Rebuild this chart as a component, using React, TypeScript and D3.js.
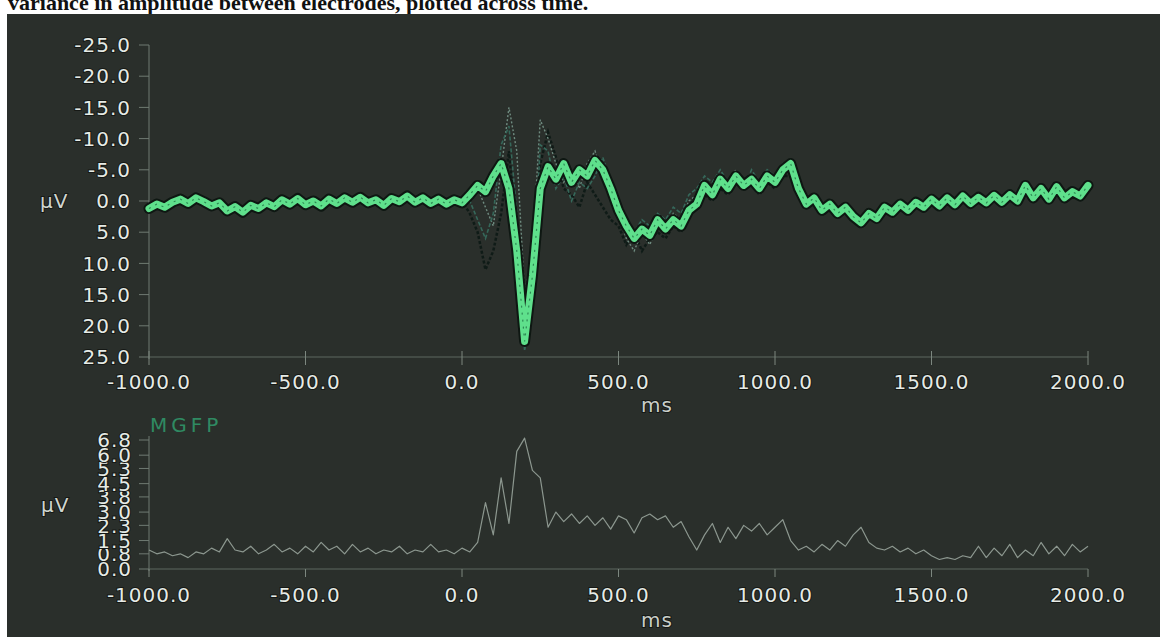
import React from "react";
import * as d3 from "d3";

// ---------- DATA ----------
const title = "variance in amplitude between electrodes, plotted across time.";

// Time axis (ms), 25 ms steps from -1000 to 2000
const timeMain: number[] = d3.range(-1000, 2001, 25);

// Dominant (bright green) electrode trace, μV (positive = plotted downward)
const mainTrace: number[] = [
  1.2, 0.5, 1.0, 0.2, -0.3, 0.4, -0.5, 0.1, 0.8, 0.3,
  1.6, 0.9, 1.8, 0.7, 1.2, 0.3, 0.9, -0.2, 0.5, -0.4,
  0.6, 0.0, 0.8, -0.3, 0.4, -0.5, 0.2, -0.6, 0.3, -0.2,
  0.7, -0.4, 0.1, -0.8, 0.2, -0.5, 0.4, -0.3, 0.5, -0.2,
  0.3, // 0 ms
  -1.0, -2.5, -1.5, -4.0, -6.0, -2.0, 8.0, 22.5, 12.0, -2.0,
  -5.5, -3.5, -6.0, -3.0, -5.0, -4.0, -6.5, -5.0, -2.0, 1.5,
  4.0, 6.0, 4.5, 5.5, 3.0, 4.5, 3.0, 4.0, 1.5, 0.5,
  -2.5, -1.0, -3.5, -2.0, -4.0, -2.5, -3.5, -2.0, -4.0, -3.0,
  -5.0, -6.0, -2.0, 0.5, -0.5, 1.5, 0.5, 2.0, 1.0, 2.5,
  3.5, 2.0, 2.8, 1.0, 1.8, 0.5, 1.5, 0.2, 1.0, -0.3,
  0.8, -0.5, 0.6, -0.8, 0.4, -0.6, 0.3, -0.9, 0.2, -1.0,
  0.0, -2.5, -0.5, -2.0, -0.3, -2.3, -0.5, -1.5, -0.8, -2.5,
];

// Secondary electrode traces around the evoked response (-100 .. 1100 ms)
const timeSecondary: number[] = d3.range(-100, 1101, 25);
const electrodeA: number[] = [
  0.5, 0, 0.8, 0, 0.5, -1, -2, 1, 4, -5,
  -15, -8, 15, 8, -13, -10, -6, -3, -5, -2,
  -6, -8, -4, 0, 2, 6, 8, 5, 7, 4,
  5, 2, 3, 0, -1, -3, -2, -4, -3, -5,
  -3, -4, -2, -4, -3, -5, -5, -2, 0.5,
];
const electrodeB: number[] = [
  0, 0.6, -0.3, 0.5, 0, 2, 5, 11, 8, 2,
  -8, 5, 20, 10, -6, -11, -7, -2, -1, 1,
  -3, -1, 1, 3, 4, 7, 5, 8, 6, 5,
  6, 4, 5, 2, 1, -1, 0, -2, -1, -3,
  -2, -3, -1, -3, -2, -4, -4, -1, 1,
];
const electrodeC: number[] = [
  0.3, -0.4, 0.2, -0.5, 0.2, 0, 3, 6, 2, -9,
  -12, 2, 24, 15, -9, -8, -2, -4, 0, -3,
  -2, -4, -7, -3, 0, 3, 5, 3, 4, 2,
  3, 1, 2, -1, -2, -4, -3, -5, -3, -4,
  -2, -5, -3, -5, -4, -6, -6, -3, 0,
];

// Mean global field power, μV
const mgfp: number[] = [
  1.0, 0.8, 0.9, 0.7, 0.8, 0.6, 0.9, 0.8, 1.1, 0.9,
  1.6, 1.0, 0.9, 1.2, 0.8, 1.0, 1.3, 0.9, 1.1, 0.8,
  1.2, 0.9, 1.4, 1.0, 1.2, 0.8, 1.3, 0.9, 1.1, 0.8,
  1.0, 0.9, 1.2, 0.8, 1.0, 0.9, 1.3, 0.9, 1.0, 0.8,
  1.1, // 0 ms
  0.9, 1.4, 3.5, 1.8, 4.8, 2.4, 6.2, 6.9, 5.2, 4.8,
  2.2, 3.0, 2.5, 2.9, 2.4, 2.8, 2.3, 2.7, 2.1, 2.8,
  2.6, 1.9, 2.7, 2.9, 2.6, 2.8, 2.2, 2.5, 1.7, 1.0,
  1.8, 2.4, 1.4, 2.2, 1.6, 2.3, 2.0, 2.4, 1.8, 2.2,
  2.6, 1.5, 1.0, 1.2, 0.9, 1.3, 1.0, 1.5, 1.2, 1.8,
  2.2, 1.4, 1.1, 1.0, 1.2, 0.9, 1.1, 0.8, 1.0, 0.7,
  0.5, 0.6, 0.5, 0.7, 0.6, 1.2, 0.6, 1.1, 0.7, 1.3,
  0.6, 1.0, 0.7, 1.4, 0.8, 1.2, 0.7, 1.3, 0.9, 1.2,
];

const xTicks: number[] = [-1000, -500, 0, 500, 1000, 1500, 2000];
const yTicksTop: number[] = [-25, -20, -15, -10, -5, 0, 5, 10, 15, 20, 25];
const yTicksBottom: number[] = [0, 0.8, 1.5, 2.3, 3.0, 3.8, 4.5, 5.3, 6.0, 6.8];

// ---------- CHART ----------
const W = 1160;
const H = 637;
const BG = "#2a2f2b";
const LABEL = "#e6ebe6";
const FONT = "'DejaVu Sans', Verdana, sans-serif";

export default function App() {
  const x = d3.scaleLinear().domain([-1000, 2000]).range([149, 1088]);
  const yTop = d3.scaleLinear().domain([-25, 25]).range([45, 357]);
  const yBot = d3.scaleLinear().domain([0, 6.8]).range([569, 440]);

  const lineTop = d3
    .line<[number, number]>()
    .x((d) => x(d[0]))
    .y((d) => yTop(d[1]));
  const lineBot = d3
    .line<[number, number]>()
    .x((d) => x(d[0]))
    .y((d) => yBot(d[1]));

  const mainPts = timeMain.map((t, i) => [t, mainTrace[i]] as [number, number]);
  const secA = timeSecondary.map((t, i) => [t, electrodeA[i]] as [number, number]);
  const secB = timeSecondary.map((t, i) => [t, electrodeB[i]] as [number, number]);
  const secC = timeSecondary.map((t, i) => [t, electrodeC[i]] as [number, number]);
  const mgfpPts = timeMain.map((t, i) => [t, mgfp[i]] as [number, number]);

  const textStyle: React.CSSProperties = {
    fontFamily: FONT,
    fontSize: 20,
    letterSpacing: 1,
    paintOrder: "stroke",
  };

  const topAxisY = 357;
  const botAxisY = 569;

  return (
    <div style={{ position: "fixed", left: 0, top: 0, width: W, height: H, background: "#fff" }}>
      <svg width={W} height={H} style={{ display: "block" }}>
        <rect x={0} y={0} width={W} height={H} fill="#ffffff" />
        <text
          x={8}
          y={10}
          style={{ fontFamily: "'Liberation Serif', 'Times New Roman', serif", fontWeight: 700, fontSize: 22 }}
          fill="#111"
        >
          {title}
        </text>
        <rect x={7} y={14} width={W - 7} height={H - 14} fill={BG} />

        {/* ---------- top butterfly plot ---------- */}
        {/* y axis */}
        <line x1={x(-1000)} x2={x(-1000)} y1={yTop(-25)} y2={topAxisY + 2} stroke="#6f7a72" strokeWidth={1} />
        {yTicksTop.map((v) => (
          <g key={"yt" + v}>
            <line x1={x(-1000) - 10} x2={x(-1000)} y1={yTop(v)} y2={yTop(v)} stroke="#6f7a72" strokeWidth={1} />
            <text
              x={131}
              y={yTop(v)}
              dy="0.36em"
              textAnchor="end"
              fill={LABEL}
              stroke="#151815"
              strokeWidth={2}
              style={textStyle}
            >
              {v.toFixed(1)}
            </text>
          </g>
        ))}
        <text x={40} y={yTop(0)} dy="0.36em" fill="#cfd5cf" stroke="#151815" strokeWidth={2} style={textStyle}>
          μV
        </text>
        {/* x axis */}
        <line x1={x(-1000)} x2={x(2000)} y1={topAxisY} y2={topAxisY} stroke="#5d6860" strokeWidth={1} />
        {xTicks.map((t) => (
          <g key={"xt" + t}>
            <line x1={x(t)} x2={x(t)} y1={topAxisY - 6} y2={topAxisY + 8} stroke="#7c877f" strokeWidth={1} />
            <text
              x={x(t)}
              y={382}
              dy="0.36em"
              textAnchor="middle"
              fill={LABEL}
              stroke="#151815"
              strokeWidth={2}
              style={textStyle}
            >
              {t.toFixed(1)}
            </text>
          </g>
        ))}
        <text x={657} y={405} dy="0.36em" textAnchor="middle" fill="#c9cfc9" stroke="#151815" strokeWidth={2} style={textStyle}>
          ms
        </text>

        {/* secondary electrodes */}
        <path d={lineTop(secB) || ""} fill="none" stroke="#0f1b17" strokeWidth={2.5} strokeDasharray="3 2" />
        <path d={lineTop(secA) || ""} fill="none" stroke="#6f8c80" strokeWidth={1.4} strokeDasharray="2 2" />
        <path d={lineTop(secC) || ""} fill="none" stroke="#35685a" strokeWidth={1.6} strokeDasharray="4 2" />
        {/* main bright trace with dark halo */}
        <path d={lineTop(mainPts) || ""} fill="none" stroke="#0e1712" strokeWidth={11} strokeLinejoin="round" strokeLinecap="round" />
        <path d={lineTop(mainPts) || ""} fill="none" stroke="#5fe08c" strokeWidth={7} strokeLinejoin="round" strokeLinecap="round" />
        <path d={lineTop(mainPts) || ""} fill="none" stroke="#2f8a55" strokeWidth={1.2} strokeDasharray="2 5" />

        {/* ---------- bottom MGFP plot ---------- */}
        <text x={150} y={425} dy="0.36em" fill="#2f8a62" style={{ ...textStyle, letterSpacing: 4 }}>
          MGFP
        </text>
        <line x1={x(-1000)} x2={x(-1000)} y1={yBot(6.8) - 4} y2={botAxisY + 2} stroke="#6f7a72" strokeWidth={1} />
        {yTicksBottom.map((v) => (
          <g key={"yb" + v}>
            <line x1={x(-1000) - 10} x2={x(-1000)} y1={yBot(v)} y2={yBot(v)} stroke="#6f7a72" strokeWidth={1} />
            <text
              x={132}
              y={yBot(v)}
              dy="0.36em"
              textAnchor="end"
              fill={LABEL}
              stroke="#151815"
              strokeWidth={2}
              style={textStyle}
            >
              {v.toFixed(1)}
            </text>
          </g>
        ))}
        <text x={41} y={505} dy="0.36em" fill="#cfd5cf" stroke="#151815" strokeWidth={2} style={textStyle}>
          μV
        </text>
        <line x1={x(-1000)} x2={x(2000)} y1={botAxisY} y2={botAxisY} stroke="#5d6860" strokeWidth={1} />
        {xTicks.map((t) => (
          <g key={"xb" + t}>
            <line x1={x(t)} x2={x(t)} y1={botAxisY} y2={botAxisY + 8} stroke="#7c877f" strokeWidth={1} />
            <text
              x={x(t)}
              y={595}
              dy="0.36em"
              textAnchor="middle"
              fill={LABEL}
              stroke="#151815"
              strokeWidth={2}
              style={textStyle}
            >
              {t.toFixed(1)}
            </text>
          </g>
        ))}
        <text x={657} y={620} dy="0.36em" textAnchor="middle" fill="#c9cfc9" stroke="#151815" strokeWidth={2} style={textStyle}>
          ms
        </text>
        <path d={lineBot(mgfpPts) || ""} fill="none" stroke="#8c978f" strokeWidth={1.2} strokeLinejoin="round" />
      </svg>
    </div>
  );
}
